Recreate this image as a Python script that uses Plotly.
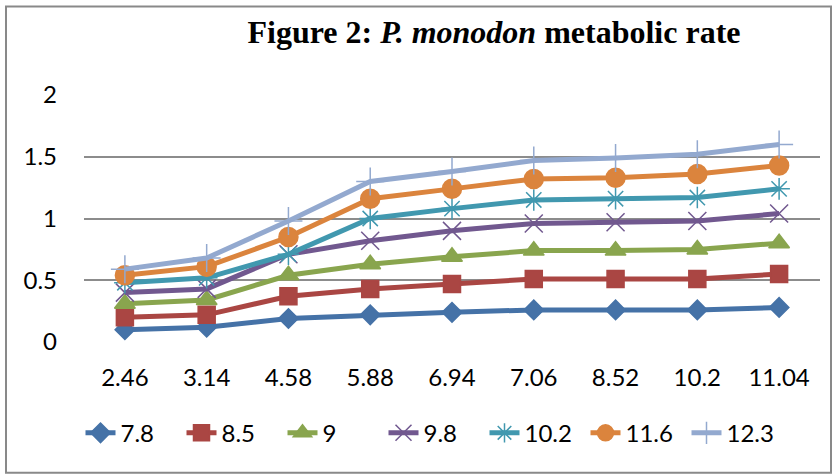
import plotly.graph_objects as go

categories = ["2.46", "3.14", "4.58", "5.88", "6.94", "7.06", "8.52", "10.2", "11.04"]
series_names = ["7.8", "8.5", "9", "9.8", "10.2", "11.6", "12.3"]
s_7_8 = [0.10, 0.12, 0.19, 0.22, 0.24, 0.26, 0.26, 0.26, 0.28]
s_8_5 = [0.20, 0.22, 0.37, 0.43, 0.47, 0.51, 0.51, 0.51, 0.55]
s_9 = [0.31, 0.34, 0.54, 0.63, 0.69, 0.74, 0.74, 0.75, 0.80]
s_9_8 = [0.40, 0.43, 0.71, 0.82, 0.90, 0.96, 0.97, 0.98, 1.04]
s_10_2 = [0.48, 0.52, 0.71, 1.00, 1.08, 1.15, 1.16, 1.17, 1.24]
s_11_6 = [0.54, 0.61, 0.85, 1.16, 1.24, 1.32, 1.33, 1.36, 1.43]
s_12_3 = [0.59, 0.68, 0.98, 1.30, 1.38, 1.47, 1.49, 1.52, 1.60]
series_values = [s_7_8, s_8_5, s_9, s_9_8, s_10_2, s_11_6, s_12_3]

colors = ["#4572A7", "#AA4643", "#89A54E", "#71588F", "#4198AF", "#DB843D", "#93A9CF"]
symbols = ["diamond", "square", "triangle-up", "x-thin-open", "asterisk-open", "circle", "cross-thin-open"]
sizes = [15, 17, 18, 18, 18, 19, 20]

fig = go.Figure()
for name, vals, col, sym, sz in zip(series_names, series_values, colors, symbols, sizes):
    fig.add_trace(go.Scatter(
        x=categories, y=vals, name=name, mode="lines+markers",
        line=dict(color=col, width=5),
        marker=dict(symbol=sym, size=sz, color=col, line=dict(color=col, width=1.5)),
    ))

W, H = 838, 474
L, R, T, B = 84, 18, 94.5, 132.3
pw, ph = W - L - R, H - T - B

def px_x(p):
    return (p - L) / pw

def px_y(p):
    return (H - B - p) / ph

fig.update_layout(
    width=W, height=H,
    margin=dict(l=L, r=R, t=T, b=B, autoexpand=False),
    paper_bgcolor="white", plot_bgcolor="white",
    font=dict(family="Lato, Liberation Sans, sans-serif", size=24, color="black"),
    title=dict(
        text="<b>Figure 2: <i>P. monodon</i> metabolic rate</b>",
        font=dict(family="Liberation Serif, Times New Roman, serif", size=32, color="black"),
        x=494 / W, xanchor="center", xref="container",
        y=1 - 32 / H, yanchor="middle", yref="container",
    ),
    xaxis=dict(type="category", range=[-0.5, 8.5], showgrid=False, showline=False,
               zeroline=False, ticks="", ticklabelstandoff=19),
    yaxis=dict(range=[0, 2], dtick=0.5, showgrid=True, gridcolor="#8C8C8C", gridwidth=2,
               zeroline=False, showline=False, ticks="", ticklabelstandoff=26,
               tickformat="~g"),
    legend=dict(orientation="h", xref="container", x=434 / W, xanchor="center",
                y=px_y(433), yanchor="middle",
                font=dict(size=24), itemsizing="trace", traceorder="normal",
                entrywidth=56, entrywidthmode="pixels",
                bgcolor="rgba(0,0,0,0)"),
    showlegend=True,
    shapes=[dict(type="rect", xref="paper", yref="paper",
                 x0=px_x(6), x1=px_x(831), y0=px_y(472.5), y1=px_y(6),
                 line=dict(color="#898989", width=2), fillcolor="rgba(0,0,0,0)", layer="below")],
)

fig.write_html("out.html")
